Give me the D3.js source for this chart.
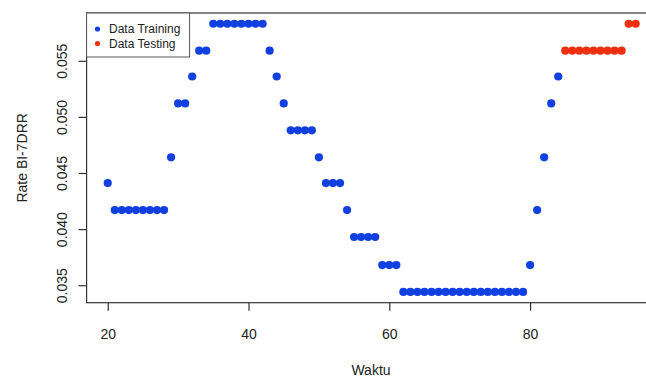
<!DOCTYPE html>
<html lang="id">
<head>
	<meta charset="utf-8">
	<script src="https://cdn.jsdelivr.net/npm/d3@7"></script>
	<style>
		body{ margin:0; background:white; }
		text{ font-family:"Liberation Sans", Arial, sans-serif; fill:#222; }
		.tick line{ stroke:#333; stroke-width:1.2px; }
	</style>
</head>
<body>
	<script>
		// data (t = index waktu, rate BI-7DRR)
		var waktuTraining = [20,21,22,23,24,25,26,27,28,29,30,31,32,33,34,35,36,37,38,39,40,41,42,43,44,45,46,47,48,49,50,51,52,53,54,55,56,57,58,59,60,61,62,63,64,65,66,67,68,69,70,71,72,73,74,75,76,77,78,79,80,81,82,83,84];
		var rateTraining = [0.0441,
			0.0417,0.0417,0.0417,0.0417,0.0417,0.0417,0.0417,0.0417,
			0.0464,0.0512,0.0512,0.0536,0.0559,0.0559,
			0.0583,0.0583,0.0583,0.0583,0.0583,0.0583,0.0583,0.0583,
			0.0559,0.0536,0.0512,
			0.0488,0.0488,0.0488,0.0488,
			0.0464,0.0441,0.0441,0.0441,0.0417,
			0.0393,0.0393,0.0393,0.0393,
			0.0368,0.0368,0.0368,
			0.0344,0.0344,0.0344,0.0344,0.0344,0.0344,0.0344,0.0344,0.0344,
			0.0344,0.0344,0.0344,0.0344,0.0344,0.0344,0.0344,0.0344,0.0344,
			0.0368,0.0417,0.0464,0.0512,0.0536];
		var waktuTesting = [85,86,87,88,89,90,91,92,93,94,95];
		var rateTesting = [0.0559,0.0559,0.0559,0.0559,0.0559,0.0559,0.0559,0.0559,0.0559,0.0583,0.0583];
		var xTicks = [20,40,60,80];
		var yTicks = [0.035,0.040,0.045,0.050,0.055];
		var legendLabels = ["Data Training","Data Testing"];
		var legendColors = ["#1240e0","#ee3010"];

		var width = 646, height = 379;
		var plotLeft = 86.6, plotRight = 656.8, plotTop = 13, plotBottom = 302.7;
		var svg, x, y, allT, allR, padT, padR;

		svg = d3.select("body").append("svg")
			.attr("width", width)
			.attr("height", height);

		// R style 4% extension of the data range
		allT = d3.extent(waktuTraining.concat(waktuTesting));
		allR = d3.extent(rateTraining.concat(rateTesting));
		padT = (allT[1] - allT[0]) * 0.04;
		padR = (allR[1] - allR[0]) * 0.04;

		x = d3.scaleLinear().domain([allT[0] - padT, allT[1] + padT]).range([plotLeft, plotRight]);
		y = d3.scaleLinear().domain([allR[0] - padR, allR[1] + padR]).range([plotBottom, plotTop]);

		// axes
		var xAxis = svg.append("g")
			.attr("transform", "translate(0," + plotBottom + ")")
			.call(d3.axisBottom(x).tickValues(xTicks).tickSize(8).tickPadding(18).tickFormat(d3.format("d")));
		xAxis.select(".domain").remove();
		xAxis.selectAll("text").style("font-size", "14px").attr("fill", "#222");

		var yAxis = svg.append("g")
			.attr("transform", "translate(" + plotLeft + ",0)")
			.call(d3.axisLeft(y).tickValues(yTicks).tickSize(8).tickFormat(d3.format(".3f")));
		yAxis.select(".domain").remove();
		yAxis.selectAll("text")
			.style("font-size", "14px")
			.attr("fill", "#222")
			.attr("x", null).attr("dy", null)
			.attr("text-anchor", "middle")
			.attr("transform", "translate(-20,0) rotate(-90)");

		// points
		var dots = svg.append("g");
		dots.selectAll("circle.train")
			.data(waktuTraining).enter()
			.append("circle")
			.attr("class", "train")
			.attr("cx", function(d){ return x(d); })
			.attr("cy", function(d, i){ return y(rateTraining[i]); })
			.attr("r", 4.1)
			.attr("fill", legendColors[0]);
		dots.selectAll("circle.test")
			.data(waktuTesting).enter()
			.append("circle")
			.attr("class", "test")
			.attr("cx", function(d){ return x(d); })
			.attr("cy", function(d, i){ return y(rateTesting[i]); })
			.attr("r", 4.1)
			.attr("fill", legendColors[1]);

		// box
		svg.append("rect")
			.attr("x", plotLeft).attr("y", plotTop)
			.attr("width", plotRight - plotLeft).attr("height", plotBottom - plotTop)
			.attr("fill", "none")
			.attr("stroke", "#333")
			.attr("stroke-width", 1.2);

		// legend
		var legend = svg.append("g");
		legend.append("rect")
			.attr("x", plotLeft).attr("y", plotTop)
			.attr("width", 103).attr("height", 44)
			.attr("fill", "white")
			.attr("stroke", "#555")
			.attr("stroke-width", 1);
		legend.selectAll("circle")
			.data(legendLabels).enter()
			.append("circle")
			.attr("cx", 97.5)
			.attr("cy", function(d, i){ return 29 + i * 14.5; })
			.attr("r", 2.6)
			.attr("fill", function(d, i){ return legendColors[i]; });
		legend.selectAll("text")
			.data(legendLabels).enter()
			.append("text")
			.attr("x", 109)
			.attr("y", function(d, i){ return 33 + i * 14.5; })
			.style("font-size", "12px")
			.text(function(d){ return d; });

		// axis titles
		svg.append("text")
			.attr("x", 371).attr("y", 375)
			.attr("text-anchor", "middle")
			.style("font-size", "14px")
			.text("Waktu");
		svg.append("text")
			.attr("transform", "translate(27," + ((plotTop + plotBottom) / 2) + ") rotate(-90)")
			.attr("text-anchor", "middle")
			.style("font-size", "14px")
			.text("Rate BI-7DRR");
	</script>
</body>
</html>
